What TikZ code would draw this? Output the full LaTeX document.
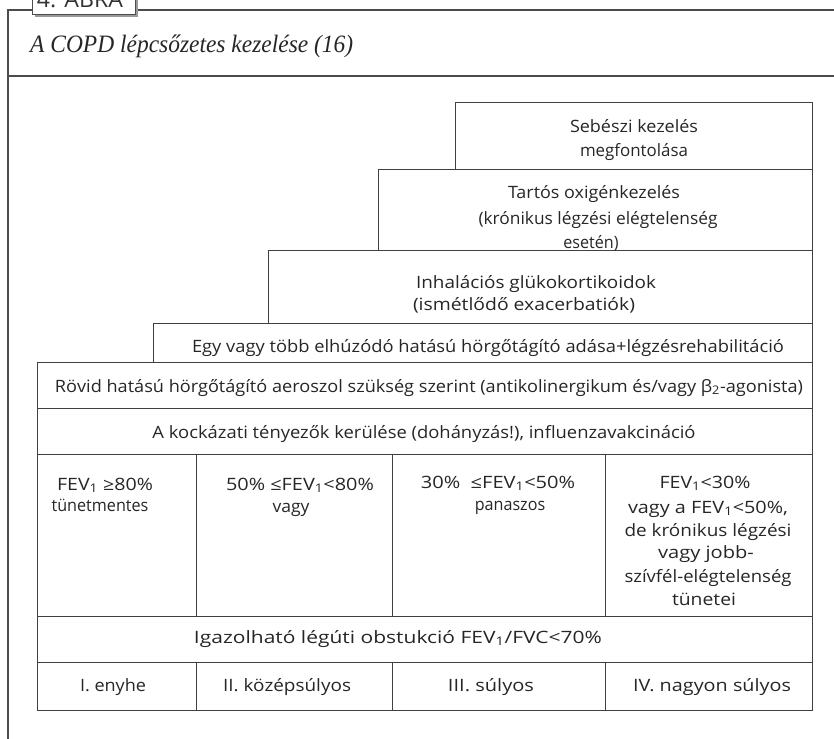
\documentclass[tikz,border=0pt]{standalone}
\usepackage{graphicx}
\usepackage{fontspec}
\setmainfont{Open Sans}
\newfontfamily\titlefont{Liberation Serif}
\newcommand\bodysize{\fontsize{17}{17}\selectfont}
\newlength\tlwidth
% a short text stretched towards a wanted width (stretch kept between 0.95 and 1.18)
\newcommand\towidth[2]{%
  \settowidth\tlwidth{#2}%
  \pgfmathsetmacro\tlsx{max(0.95,min(1.18,#1/\tlwidth))}%
  \scalebox{\tlsx}[1]{#2}}
% one line of text standing on its baseline
\newcommand\tline[5]{\node[txt,anchor=base] (#1) at (#2,#3) {\towidth{#4}{#5}};}
% one long line of text set to exactly the given width
\newcommand\tlinefit[5]{\node[txt,anchor=base] (#1) at (#2,#3) {\resizebox{#4pt}{\height}{#5}};}
\newcommand\sub[1]{\textsubscript{#1}}
\begin{document}
\begin{tikzpicture}[x=1pt,y=-1pt,
  frame/.style={draw=black!70,line width=1.2pt},
  box/.style={draw=black!75,line width=1pt},
  txt/.style={inner sep=0pt,text=black!85,font=\bodysize}]
\useasboundingbox (0,0) rectangle (834,738);
\clip (0,0) rectangle (834,738);
% outer frame and header band
\draw[frame] (32,10) -- (8,10) -- (8,745);
\draw[frame] (137,10) -- (834,10);
\draw[frame] (8,76) -- (834,76);
% figure tab with its shadow
\fill[black!40] (35,-10) rectangle (138,17);
\draw[black!70,line width=0.8pt,fill=white] (32,-10) rectangle (135,14);
\node[anchor=base,inner sep=0pt,text=black!80,font=\fontsize{22}{22}\selectfont] (tab) at (80,7.5) {\resizebox{86pt}{\height}{4. ÁBRA}};
\node[anchor=base west,inner sep=0pt,text=black!85,font=\titlefont\itshape\fontsize{25}{25}\selectfont] (title) at (30,53) {\resizebox{323pt}{\height}{A COPD lépcsőzetes kezelése (16)}};
% treatment steps
\draw[box] (455,103) rectangle (812,169);
\draw[box] (378,169) rectangle (812,250);
\draw[box] (268,250) rectangle (812,323);
\draw[box] (153,323) rectangle (812,362);
\draw[box] (37,362) rectangle (812,408);
\draw[box] (37,408) rectangle (812,454);
% severity criteria and stages
\foreach \xa/\xb in {37/196,196/392,392/605,605/812}{
  \draw[box] (\xa,454) rectangle (\xb,616);
  \draw[box] (\xa,662) rectangle (\xb,710);
}
\draw[box] (37,616) rectangle (812,662);
% texts of the steps
\tline{seb1}{634}{133}{128}{Sebészi kezelés}
\tline{seb2}{634}{157}{108}{megfontolása}
\tline{tar1}{594}{198}{172}{Tartós oxigénkezelés}
\tline{tar2}{598}{224}{239}{(krónikus légzési elégtelenség}
\tline{tar3}{591}{248}{50}{esetén)}
\tline{inh1}{536}{288}{240}{Inhalációs glükokortikoidok}
\tline{inh2}{524}{310}{222}{(ismétlődő exacerbatiók)}
\tlinefit{egy}{488}{352}{592}{Egy vagy több elhúzódó hatású hörgőtágító adása+légzésrehabilitáció}
\tlinefit{rovid}{429}{392}{748}{Rövid hatású hörgőtágító aeroszol szükség szerint (antikolinergikum és/vagy β\sub{2}-agonista)}
\tlinefit{kock}{424}{438}{543}{A kockázati tényezők kerülése (dohányzás!), influenzavakcináció}
% texts of the criteria
\tline{c1a}{105}{490}{96}{FEV\sub{1} ≥80\%}
\tline{c1b}{100}{511}{87}{tünetmentes}
\tline{c2a}{300}{490}{148}{50\% ≤FEV\sub{1}<80\%}
\tline{c2b}{291}{512}{37}{vagy}
\tline{c3a}{498}{488}{157}{30\%\ \ ≤FEV\sub{1}<50\%}
\tline{c3b}{510}{510}{68}{panaszos}
\tline{c4a}{705}{488}{91}{FEV\sub{1}<30\%}
\tline{c4b}{708}{513}{160}{vagy a FEV\sub{1}<50\%,}
\tline{c4c}{708}{536}{167}{de krónikus légzési}
\tline{c4d}{706}{558}{102}{vagy jobb-}
\tline{c4e}{708}{582}{167}{szívfél-elégtelenség}
\tline{c4f}{704}{605}{64}{tünetei}
\tlinefit{igaz}{398}{643}{408}{Igazolható légúti obstukció FEV\sub{1}/FVC<70\%}
% stages
\tline{s1}{113}{691}{66}{I. enyhe}
\tline{s2}{287}{691}{128}{II. középsúlyos}
\tline{s3}{491}{691}{90}{III. súlyos}
\tline{s4}{712}{691}{158}{IV. nagyon súlyos}
\end{tikzpicture}
\end{document}
